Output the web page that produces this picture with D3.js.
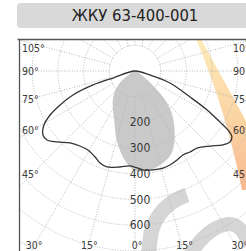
<!DOCTYPE html>
<html><head><meta charset="utf-8">
<script src="https://cdn.jsdelivr.net/npm/d3@7"></script>
<style>html,body{margin:0;padding:0;background:#fff;overflow:hidden}svg{display:block}</style>
</head><body><svg id="c" width="246" height="251"></svg>
<script>
// ---- data ----
const title = "ЖКУ 63-400-001";
// C90–C270 plane (black line): signed angle from nadir (deg), intensity (cd)
const c90Angles = [0, -72.3, -71.6, -68.8, -65.6, -62.6, -59.3, -55.2, -51.9, -47.7, -42.1, -36.3, -30.8, -24.9, -20.8, -16.3, -8.9, -3, 1.2, 4.6, 10.3, 16.1, 20.4, 25.3, 29.7, 34.2, 38.8, 45, 50, 53.2, 55.8, 57.6, 59, 61.6, 64.7, 71.1, 75];
const c90Values = [0, 90, 172, 259, 320, 372, 412, 436, 435, 410, 377, 362, 358, 369, 383, 389, 378, 370, 377, 386, 391, 393, 390, 383, 376, 381, 385, 413, 447, 461, 456, 428, 386, 319, 237, 144, 60];
// C0–C180 plane (grey fill)
const c0Angles = [0, -58, -50, -40, -30, -23, -15, -8, -3, 0, 3, 9, 17, 24, 31, 41, 47, 52, 58];
const c0Values = [0, 30, 86, 132, 172, 207, 277, 338, 374, 388, 393, 390, 374, 350, 300, 218, 149, 80, 30];
const radialTicks = [200, 300, 400, 500, 600];
const gridCircles = [100, 200, 300, 400, 500, 600, 700, 800, 900, 1000];
const sideTickAngles = [105, 90, 75, 60, 45];
const bottomTickAngles = [-30, -15, 0, 15, 30];

// ---- layout ----
const W = 246, H = 251;
const cx = 135, cy = 71;
const plot = {x: 19.5, y: 39.5};
const r = d3.scaleLinear().domain([0, 100]).range([0, 25.7]);
const rad = d => d * Math.PI / 180;
const px = (a, v) => cx + r(v) * Math.sin(rad(a));
const py = (a, v) => cy + r(v) * Math.cos(rad(a));

const svg = d3.select("#c");
const defs = svg.append("defs");
defs.append("clipPath").attr("id", "clip").append("rect")
  .attr("x", plot.x).attr("y", plot.y).attr("width", W - plot.x + 10).attr("height", H - plot.y + 10);
const grad = defs.append("linearGradient").attr("id", "og").attr("x1", 0).attr("y1", 0).attr("x2", 0).attr("y2", 1);
grad.append("stop").attr("offset", "0%").attr("stop-color", "#fdebb8");
grad.append("stop").attr("offset", "55%").attr("stop-color", "#fbd3a2");
grad.append("stop").attr("offset", "100%").attr("stop-color", "#f8b890");

// title
svg.append("rect").attr("x", 17).attr("y", 3).attr("width", 240).attr("height", 25).attr("rx", 4).attr("fill", "#d9d9d9");
svg.append("text").attr("x", 135).attr("y", 15.5).attr("text-anchor", "middle").attr("dominant-baseline", "central")
  .attr("font-family", "'DejaVu Sans Condensed', 'DejaVu Sans', sans-serif").attr("font-size", 16.5)
  .attr("fill", "#222").text(title);

const g = svg.append("g").attr("clip-path", "url(#clip)");

// decorations (background watermark)
g.append("path").attr("d", "M196,39 L201,39 Q228,88 252,132 L252,190 L242,190 Q226,110 196,39 Z").attr("fill", "url(#og)");
g.append("path").attr("d", "M187,195 C169,201 156,214 151,233 L148,258").attr("fill", "none").attr("stroke", "#d5d5d5").attr("stroke-width", 15);
g.append("path").attr("d", "M188,258 C200,238 214,226 228,224 C238,223 244,232 250,245").attr("fill", "none").attr("stroke", "#d5d5d5").attr("stroke-width", 14);

// grey C0 shape
const c0pts = c0Angles.map((a, i) => [px(a, c0Values[i]), py(a, c0Values[i])]);
g.append("path").attr("d", d3.line().curve(d3.curveCatmullRomClosed.alpha(0.5))(c0pts)).attr("fill", "#c9c9c9");

// grid
const grid = g.append("g").attr("fill", "none").attr("stroke", "#b8b8b8").attr("stroke-width", 1).attr("stroke-dasharray", "1,1.6");
grid.selectAll("circle").data(gridCircles).join("circle")
  .attr("cx", cx).attr("cy", cy).attr("r", d => r(d));
grid.selectAll("line").data(d3.range(0, 360, 15)).join("line")
  .attr("x1", a => px(a, 100)).attr("y1", a => py(a, 100))
  .attr("x2", a => px(a, 1100)).attr("y2", a => py(a, 1100));

// black C90 curve
const c90pts = c90Angles.map((a, i) => [px(a, c90Values[i]), py(a, c90Values[i])]);
g.append("path").attr("d", d3.line().curve(d3.curveCatmullRomClosed.alpha(0.5))(c90pts))
  .attr("fill", "none").attr("stroke", "#333").attr("stroke-width", 1.3);

// labels
const lf = "'DejaVu Sans Condensed', 'DejaVu Sans', sans-serif";
const lab = g.append("g").attr("font-family", lf).attr("fill", "#3a3a3a");
lab.selectAll("text.rt").data(radialTicks).join("text").attr("class", "rt")
  .attr("x", cx + 5).attr("y", d => py(0, d)).attr("text-anchor", "middle").attr("dominant-baseline", "central")
  .attr("font-size", 12).text(d => d);
const sideY = a => Math.max(47.5, cy + 103 / Math.tan(rad(a)));
lab.selectAll("text.sl").data(sideTickAngles).join("text").attr("class", "sl")
  .attr("x", 22).attr("y", sideY).attr("dominant-baseline", "central").attr("font-size", 10.5).text(d => d + "°");
lab.selectAll("text.sr").data(sideTickAngles).join("text").attr("class", "sr")
  .attr("x", 233).attr("y", sideY).attr("dominant-baseline", "central").attr("font-size", 10.5).text(d => d + "°");
lab.selectAll("text.bt").data(bottomTickAngles).join("text").attr("class", "bt")
  .attr("x", a => cx + 178 * Math.tan(rad(a)) + 2).attr("y", 244.5).attr("text-anchor", "middle")
  .attr("dominant-baseline", "central").attr("font-size", 10.5).text(a => Math.abs(a) + "°");

// frame
svg.append("line").attr("x1", 17.5).attr("x2", W).attr("y1", plot.y).attr("y2", plot.y).attr("stroke", "#555").attr("stroke-width", 1.3);
svg.append("line").attr("x1", plot.x).attr("x2", plot.x).attr("y1", plot.y).attr("y2", H).attr("stroke", "#555").attr("stroke-width", 1.3);
</script></body></html>
